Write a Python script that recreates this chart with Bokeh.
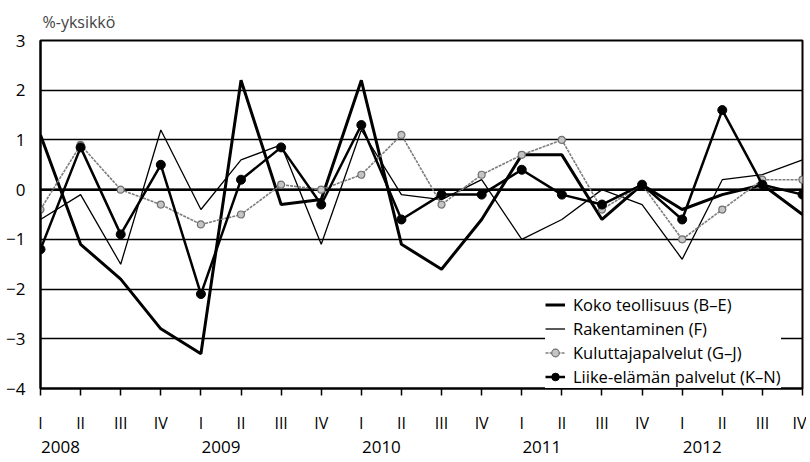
from bokeh.plotting import figure
from bokeh.models import (FixedTicker, LinearAxis, Range1d, Span, Legend,
                          LegendItem)
from bokeh.embed import file_html
from bokeh.resources import INLINE

# ---- data ----
quarter_labels = ["I", "II", "III", "IV"] * 5
years = ["2008", "2009", "2010", "2011", "2012"]
koko = [1.1, -1.1, -1.8, -2.8, -3.3, 2.2, -0.3, -0.2, 2.2, -1.1,
        -1.6, -0.6, 0.7, 0.7, -0.6, 0.1, -0.4, -0.1, 0.1, -0.5]
rakentaminen = [-0.6, -0.1, -1.5, 1.2, -0.4, 0.6, 0.9, -1.1, 1.2, -0.1,
                -0.2, 0.2, -1.0, -0.6, 0.0, -0.3, -1.4, 0.2, 0.3, 0.6]
kuluttaja = [-0.4, 0.9, 0.0, -0.3, -0.7, -0.5, 0.1, 0.0, 0.3, 1.1,
             -0.3, 0.3, 0.7, 1.0, -0.4, 0.1, -1.0, -0.4, 0.2, 0.2]
liike = [-1.2, 0.85, -0.9, 0.5, -2.1, 0.2, 0.85, -0.3, 1.3, -0.6,
         -0.1, -0.1, 0.4, -0.1, -0.3, 0.1, -0.6, 1.6, 0.1, -0.1]
y_ticks = [-4, -3, -2, -1, 0, 1, 2, 3]
y_tick_labels = ["\u22124", "\u22123", "\u22122", "\u22121", "0", "1", "2", "3"]
series_names = ["Koko teollisuus (B\u2013E)", "Rakentaminen (F)",
                "Kuluttajapalvelut (G\u2013J)", "Liike-el\u00e4m\u00e4n palvelut (K\u2013N)"]

x = list(range(len(quarter_labels)))
FONT = "Open Sans"

p = figure(width=806, height=456, x_range=Range1d(0, len(x) - 1),
           y_range=Range1d(-4, 3), output_backend="svg",
           toolbar_location=None, min_border_left=40, min_border_right=4,
           min_border_top=38, min_border_bottom=68)

p.title.text = "%-yksikk\u00f6"
p.title.text_font = FONT
p.title.text_font_size = "16px"
p.title.text_font_style = "normal"
p.title.align = "left"
p.title.standoff = 16
p.title.offset = 2

p.outline_line_color = "black"
p.outline_line_width = 2
p.background_fill_color = "white"

# y axis
p.yaxis.ticker = FixedTicker(ticks=y_ticks)
p.yaxis.major_label_overrides = {t: l for t, l in zip(y_ticks, y_tick_labels)}
p.yaxis.major_tick_out = 0
p.yaxis.major_tick_in = 0
p.yaxis.minor_tick_line_color = None
p.yaxis.axis_line_color = "black"
p.yaxis.axis_line_width = 2
p.yaxis.major_label_standoff = 15
p.yaxis.major_label_text_font = FONT
p.yaxis.major_label_text_font_size = "17px"
p.yaxis.major_label_text_color = "black"

p.ygrid.ticker = FixedTicker(ticks=y_ticks)
p.ygrid.grid_line_color = "black"
p.ygrid.grid_line_width = 1.5
p.ygrid.grid_line_alpha = 1
p.xgrid.grid_line_color = None

p.add_layout(Span(location=0, dimension="width", line_color="black",
                  line_width=2.5, level="underlay"))

# x axis (quarters)
p.xaxis.ticker = FixedTicker(ticks=x)
p.xaxis.major_label_overrides = {i: l for i, l in zip(x, quarter_labels)}
p.xaxis.major_tick_out = 7
p.xaxis.major_tick_in = 0
p.xaxis.major_tick_line_width = 1.5
p.xaxis.major_tick_line_color = "black"
p.xaxis.minor_tick_line_color = None
p.xaxis.axis_line_color = "black"
p.xaxis.axis_line_width = 2
p.xaxis.major_label_standoff = 16
p.xaxis.major_label_text_font = FONT
p.xaxis.major_label_text_font_size = "16px"
p.xaxis.major_label_text_color = "black"

# x axis (years)
year_pos = [i + 0.5 for i, l in enumerate(quarter_labels) if l == "I"]
yax = LinearAxis(ticker=FixedTicker(ticks=year_pos),
                 major_label_overrides={t: y for t, y in zip(year_pos, years)})
yax.axis_line_color = None
yax.major_tick_line_color = None
yax.minor_tick_line_color = None
yax.major_tick_out = 0
yax.major_tick_in = 0
yax.major_label_standoff = 4
yax.major_label_text_font = FONT
yax.major_label_text_font_size = "17px"
yax.major_label_text_color = "black"
p.add_layout(yax, "below")

# series
r1 = p.line(x, koko, line_color="black", line_width=3)
r2 = p.line(x, rakentaminen, line_color="black", line_width=1.3)
r3 = p.line(x, kuluttaja, line_color="#7d7d7d", line_width=1.6, line_dash="3 1")
r3m = p.scatter(x, kuluttaja, marker="circle", size=7, line_color="#707070",
                fill_color="#c4c4c4", line_width=1.2)
r4 = p.line(x, liike, line_color="black", line_width=2.5)
r4m = p.scatter(x, liike, marker="circle", size=9, line_color="black",
                fill_color="black")

legend = Legend(items=[
    LegendItem(label=series_names[0], renderers=[r1]),
    LegendItem(label=series_names[1], renderers=[r2]),
    LegendItem(label=series_names[2], renderers=[r3, r3m]),
    LegendItem(label=series_names[3], renderers=[r4, r4m]),
], location=(505, 0))
legend.margin = 0
legend.padding = 6
legend.spacing = 1
legend.glyph_width = 20
legend.glyph_height = 19
legend.label_height = 19
legend.label_standoff = 8
legend.label_text_font = FONT
legend.label_text_font_size = "16.5px"
legend.label_text_color = "black"
legend.border_line_color = None
legend.background_fill_color = "white"
legend.background_fill_alpha = 1
p.add_layout(legend)

open("out.html", "w").write(file_html(p, INLINE))
